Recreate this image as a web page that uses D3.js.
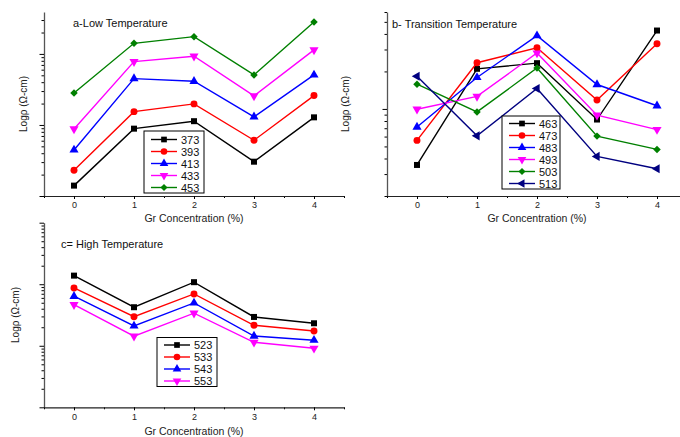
<!DOCTYPE html>
<html>
<head>
<meta charset="utf-8">
<script src="https://cdn.jsdelivr.net/npm/d3@7"></script>
<style>
  body { margin: 0; background: #fff; }
  text { font-family: "Liberation Sans", Arial, sans-serif; }
</style>
</head>
<body>
<div id="chart"></div>
<script>
// Resistivity vs Gr concentration, three temperature ranges

const width = 680;
const height = 437;

// x categories
const grConc = [0, 1, 2, 3, 4];

// a - low temperature
const lowLabels = ["373", "393", "413", "433", "453"];
const low373 = [1.40, 8.87, 11.3, 3.04, 12.8];
const low393 = [2.30, 15.4, 19.8, 6.09, 25.9];
const low413 = [4.45, 44.9, 41.2, 13.0, 50.6];
const low433 = [8.78, 77.9, 92.8, 25.6, 114];
const low453 = [28.2, 141, 175, 50.6, 282];

// b - transition temperature
const transLabels = ["463", "473", "483", "493", "503", "513"];
const trans463 = [3.55, 21.0, 23.3, 8.22, 42.6];
const trans473 = [5.59, 23.5, 31.0, 11.8, 33.4];
const trans483 = [7.15, 17.9, 38.7, 15.7, 10.6];
const trans493 = [9.95, 12.6, 28.1, 8.91, 6.83];
const trans503 = [15.8, 9.46, 21.3, 6.05, 4.73];
const trans513 = [18.3, 6.08, 14.6, 4.16, 3.31];

// c - high temperature
const highLabels = ["523", "533", "543", "553"];
const high523 = [138, 42.3, 108, 29.4, 23.2];
const high533 = [87.1, 29.7, 69.5, 21.5, 17.4];
const high543 = [63.8, 21.0, 49.7, 14.4, 12.3];
const high553 = [46.6, 14.3, 33.8, 11.4, 9.11];

// series styles (colour + marker) in legend order
const styles = [
  {color: "#000000", shape: d3.symbolSquare, rot: 0, size: 36},
  {color: "#ff0000", shape: d3.symbolCircle, rot: 0, size: 38},
  {color: "#0000ff", shape: d3.symbolTriangle, rot: 0, size: 36},
  {color: "#ff00ff", shape: d3.symbolTriangle, rot: 180, size: 36},
  {color: "#008000", shape: d3.symbolSquare, rot: 45, size: 28},
  {color: "#000080", shape: d3.symbolTriangle, rot: -90, size: 36}
];

const svg = d3.select("#chart")
  .append("svg")
  .attr("width", width)
  .attr("height", height);

const panels = [
  {
    title: "a-Low Temperature", titleX: 73, titleY: 27,
    labels: lowLabels, values: [low373, low393, low413, low433, low453],
    x0: 44, x1: 344, yTop: 12, yBot: 196, domain: [1, 389],
    yLabelX: 27, xLabelY: 222,
    legend: {x: 144, y: 131, w: 60, h: 62, row0: 139.5}
  },
  {
    title: "b- Transition Temperature", titleX: 392, titleY: 28,
    labels: transLabels, values: [trans463, trans473, trans483, trans493, trans503, trans513],
    x0: 387, x1: 687, yTop: 12, yBot: 196, domain: [2, 60],
    yLabelX: 349, xLabelY: 222,
    legend: {x: 502, y: 116, w: 58, h: 73, row0: 123.5}
  },
  {
    title: "c= High Temperature", titleX: 61, titleY: 248,
    labels: highLabels, values: [high523, high533, high543, high553],
    x0: 44, x1: 344, yTop: 222.7, yBot: 407.3, domain: [1, 1000],
    yLabelX: 19, xLabelY: 435,
    legend: {x: 157, y: 337.5, w: 60, h: 49, row0: 345}
  }
];

function logTicks(domain) {
  const major = [], minor = [];
  const lo = Math.floor(Math.log10(domain[0]));
  const hi = Math.ceil(Math.log10(domain[1]));
  for (let k = lo; k <= hi; k++) {
    for (let m = 1; m <= 9; m++) {
      const v = m * Math.pow(10, k);
      if (v < domain[0] * 0.999 || v > domain[1] * 1.001) continue;
      if (m === 1) major.push(v); else minor.push(v);
    }
  }
  return {major, minor};
}

panels.forEach(p => {
  const g = svg.append("g");

  const x = d3.scaleLinear().domain([-0.5, 4.5]).range([p.x0, p.x1]);
  const y = d3.scaleLog().domain(p.domain).range([p.yBot, p.yTop]);

  // y axis: minor + major ticks, no labels
  const t = logTicks(p.domain);
  g.append("g")
    .attr("transform", `translate(${p.x0},0)`)
    .call(d3.axisLeft(y).tickValues(t.minor).tickSize(2.5).tickSizeOuter(0).tickFormat(""))
    .call(a => a.select(".domain").remove());
  g.append("g")
    .attr("transform", `translate(${p.x0},0)`)
    .call(d3.axisLeft(y).tickValues(t.major).tickSize(4.5).tickSizeOuter(0).tickFormat(""))
    .call(a => a.select(".domain").attr("stroke", "#555").attr("stroke-width", 1.3));

  // x axis
  g.append("g")
    .attr("transform", `translate(0,${p.yBot})`)
    .call(d3.axisBottom(x).tickValues([-0.5, 0.5, 1.5, 2.5, 3.5, 4.5]).tickSize(2).tickSizeOuter(0).tickFormat(""))
    .call(a => a.select(".domain").remove());
  g.append("g")
    .attr("transform", `translate(0,${p.yBot})`)
    .call(d3.axisBottom(x).tickValues(grConc).tickFormat(d3.format("d"))
      .tickSize(3).tickPadding(3).tickSizeOuter(0))
    .call(a => a.select(".domain").attr("stroke", "#222").attr("stroke-width", 1.2))
    .call(a => a.selectAll("text").attr("font-size", "9px").attr("fill", "#222")
      .attr("font-family", "'Liberation Sans', Arial, sans-serif"));

  // axis titles
  g.append("text")
    .attr("x", (p.x0 + p.x1) / 2)
    .attr("y", p.xLabelY)
    .attr("text-anchor", "middle")
    .attr("font-size", "10.5px")
    .attr("fill", "#222")
    .text("Gr Concentration (%)");
  g.append("text")
    .attr("transform", `translate(${p.yLabelX},${(p.yTop + p.yBot) / 2}) rotate(-90)`)
    .attr("text-anchor", "middle")
    .attr("font-size", "10px")
    .attr("fill", "#222")
    .text("Logρ (Ω-cm)");

  // panel title
  g.append("text")
    .attr("x", p.titleX)
    .attr("y", p.titleY)
    .attr("font-size", "11px")
    .attr("fill", "#111")
    .text(p.title);

  const line = d3.line()
    .x((d, i) => x(grConc[i]))
    .y(d => y(d));

  p.values.forEach((vals, si) => {
    const s = styles[si];
    g.append("path")
      .datum(vals)
      .attr("fill", "none")
      .attr("stroke", s.color)
      .attr("stroke-width", 1.4)
      .attr("d", line);
    g.selectAll(null)
      .data(vals)
      .enter()
      .append("path")
      .attr("d", d3.symbol().type(s.shape).size(s.size))
      .attr("transform", (d, i) => `translate(${x(grConc[i])},${y(d)}) rotate(${s.rot})`)
      .attr("fill", s.color);
  });

  // legend
  const L = p.legend;
  const lg = g.append("g");
  lg.append("rect")
    .attr("x", L.x).attr("y", L.y)
    .attr("width", L.w).attr("height", L.h)
    .attr("fill", "#fff")
    .attr("stroke", "#000")
    .attr("stroke-width", 1);
  p.labels.forEach((lab, i) => {
    const s = styles[i];
    const ry = L.row0 + i * 12;
    lg.append("line")
      .attr("x1", L.x + 7).attr("x2", L.x + 33)
      .attr("y1", ry).attr("y2", ry)
      .attr("stroke", s.color)
      .attr("stroke-width", 1.4);
    lg.append("path")
      .attr("d", d3.symbol().type(s.shape).size(s.size * 0.9))
      .attr("transform", `translate(${L.x + 20},${ry}) rotate(${s.rot})`)
      .attr("fill", s.color);
    lg.append("text")
      .attr("x", L.x + 37)
      .attr("y", ry + 4)
      .attr("font-size", "11px")
      .attr("fill", "#111")
      .text(lab);
  });
});
</script>
</body>
</html>
